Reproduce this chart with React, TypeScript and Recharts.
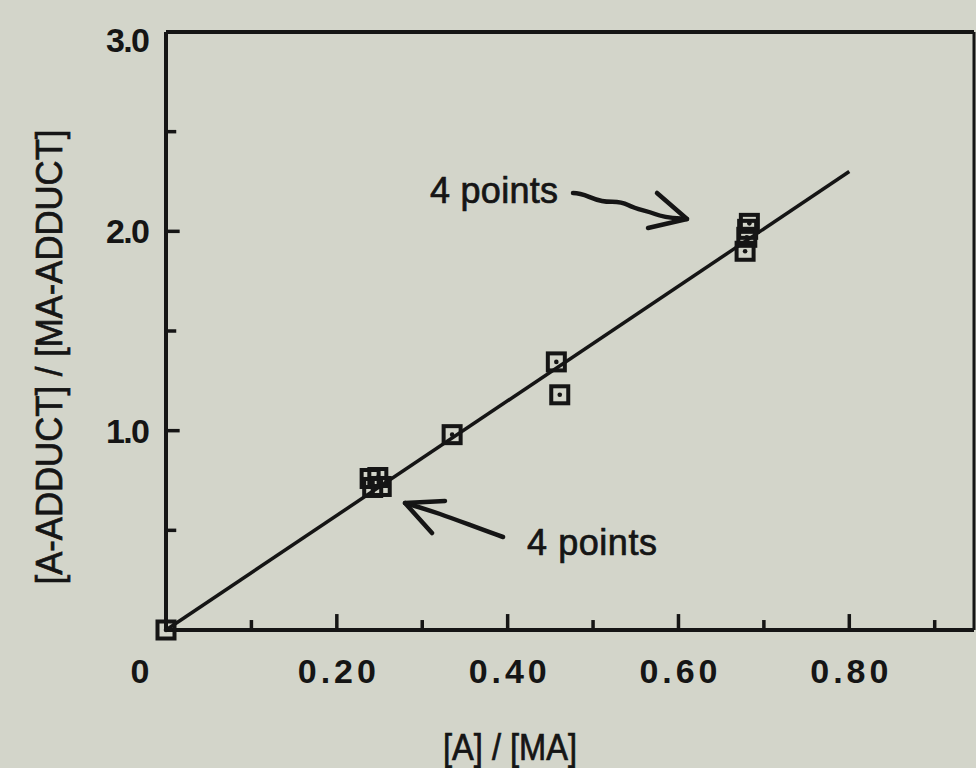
import { ScatterChart, Scatter, XAxis, YAxis, ReferenceLine } from 'recharts';

document.body.style.margin = '0';

const BG = '#d3d5ca';
const INK = '#151515';
const FONT = '"Liberation Sans", Arial, Helvetica, sans-serif';

// measured points: [A]/[MA] vs [A-adduct]/[MA-adduct]
const ratioA = [0, 0.239, 0.248, 0.242, 0.252, 0.335, 0.457, 0.461, 0.683, 0.681, 0.68, 0.678];
const ratioAdduct = [0, 0.76, 0.765, 0.715, 0.72, 0.98, 1.345, 1.18, 2.04, 2.01, 1.97, 1.9];

// least squares line drawn on the figure
const fitX = [0, 0.8];
const fitY = [0, 2.3];

const xLabelTicks = [0, 0.2, 0.4, 0.6, 0.8];
const xMajorTicks = [0.2, 0.4, 0.6, 0.8];
const xMinorTicks = [0.1, 0.3, 0.5, 0.7, 0.9];
const yLabelTicks = [1, 2, 3];
const yMajorTicks = [1, 2];
const yMinorTicks = [0.5, 1.5, 2.5];

const X_MAX = 0.946;
const Y_MAX = 3;

const points = ratioA.map((x, i) => ({ x, y: ratioAdduct[i] }));
const fitLine = fitX.map((x, i) => ({ x, y: fitY[i] }));

const SquareDot = (props: any) => {
  const { cx, cy } = props;
  if (cx == null || cy == null) return <g />;
  return (
    <g>
      <rect x={cx - 8.5} y={cy - 8.5} width={17} height={17} fill="none" stroke={INK} strokeWidth={4} />
      <circle cx={cx} cy={cy} r={2.3} fill={INK} />
    </g>
  );
};

const XTick = (props: any) => {
  const { x, y, payload } = props;
  const v = payload.value;
  if (v === 0) {
    return (
      <text x={x - 26} y={y + 53} textAnchor="middle" fontFamily={FONT} fontWeight="bold" fontSize={34} fill={INK}>
        0
      </text>
    );
  }
  return (
    <text x={x} y={y + 53} textAnchor="middle" fontFamily={FONT} fontWeight="bold" fontSize={34} fill={INK}
      textLength={78} lengthAdjust="spacing">
      {v.toFixed(2)}
    </text>
  );
};

const YTick = (props: any) => {
  const { x, y, payload } = props;
  const v = payload.value;
  const dy = v === 3 ? 20 : 12;
  return (
    <text x={x} y={y + dy} textAnchor="end" fontFamily={FONT} fontWeight="bold" fontSize={34} fill={INK}
      textLength={44} lengthAdjust="spacing">
      {v.toFixed(1)}
    </text>
  );
};

export default function App() {
  const axisStroke = { stroke: INK, strokeWidth: 4 };
  const textInk = { fill: INK, stroke: INK, strokeWidth: 0.7 };
  return (
    <div style={{ position: 'relative', width: 976, height: 768, background: BG, overflow: 'hidden' }}>
      <ScatterChart width={976} height={768} margin={{ top: 32, right: 2, bottom: 0, left: 0 }}>
        <XAxis
          type="number"
          dataKey="x"
          domain={[0, X_MAX]}
          ticks={xLabelTicks}
          tick={<XTick />}
          tickLine={false}
          tickSize={0}
          tickMargin={0}
          axisLine={axisStroke}
          height={138}
        />
        <YAxis
          type="number"
          dataKey="y"
          domain={[0, Y_MAX]}
          ticks={yLabelTicks}
          tick={<YTick />}
          tickLine={false}
          tickSize={0}
          tickMargin={16}
          axisLine={axisStroke}
          width={166}
        />
        <ReferenceLine y={Y_MAX} stroke={INK} strokeWidth={4} />
        <ReferenceLine x={X_MAX} stroke={INK} strokeWidth={3} />
        {xMajorTicks.map((t) => (
          <ReferenceLine key={'xM' + t} segment={[{ x: t, y: 0 }, { x: t, y: 0.08 }]} stroke={INK} strokeWidth={3.5} />
        ))}
        {xMinorTicks.map((t) => (
          <ReferenceLine key={'xm' + t} segment={[{ x: t, y: 0 }, { x: t, y: 0.05 }]} stroke={INK} strokeWidth={3.5} />
        ))}
        {yMajorTicks.map((t) => (
          <ReferenceLine key={'yM' + t} segment={[{ x: 0, y: t }, { x: 0.016, y: t }]} stroke={INK} strokeWidth={3.5} />
        ))}
        {yMinorTicks.map((t) => (
          <ReferenceLine key={'ym' + t} segment={[{ x: 0, y: t }, { x: 0.012, y: t }]} stroke={INK} strokeWidth={3.5} />
        ))}
        <Scatter
          data={fitLine}
          line={{ stroke: INK, strokeWidth: 3.5 }}
          shape={() => <g />}
          isAnimationActive={false}
        />
        <Scatter data={points} shape={<SquareDot />} isAnimationActive={false} />
      </ScatterChart>

      <svg width={976} height={768} style={{ position: 'absolute', left: 0, top: 0, pointerEvents: 'none' }}>
        <text
          transform="translate(62 357) rotate(-90)"
          textAnchor="middle"
          fontFamily={FONT}
          fontSize={36}
          {...textInk}
          textLength={455}
          lengthAdjust="spacingAndGlyphs"
        >
          [A-ADDUCT] / [MA-ADDUCT]
        </text>
        <text x={510} y={760} textAnchor="middle" fontFamily={FONT} fontSize={36} {...textInk}
          textLength={134} lengthAdjust="spacingAndGlyphs">
          [A] / [MA]
        </text>

        <text x={430} y={203} fontFamily={FONT} fontSize={36} {...textInk} textLength={128} lengthAdjust="spacing">
          4 points
        </text>
        <path
          d="M573 193 C585 193 590 199 602 201 C612 203 618 200 628 205 C638 210 645 210 655 214 C665 218 675 218 687 219"
          fill="none" stroke={INK} strokeWidth={4.5} strokeLinecap="round"
        />
        <path d="M657 193 L687 219 L648 228" fill="none" stroke={INK} strokeWidth={4.5} strokeLinecap="round" strokeLinejoin="round" />

        <text x={527} y={555} fontFamily={FONT} fontSize={36} {...textInk} textLength={130} lengthAdjust="spacing">
          4 points
        </text>
        <path d="M503 537 C480 529 460 521 440 514 C425 509 415 506 405 503" fill="none" stroke={INK} strokeWidth={4.5} strokeLinecap="round" />
        <path d="M445 501 L405 503 L432 533" fill="none" stroke={INK} strokeWidth={4.5} strokeLinecap="round" strokeLinejoin="round" />
      </svg>
    </div>
  );
}
